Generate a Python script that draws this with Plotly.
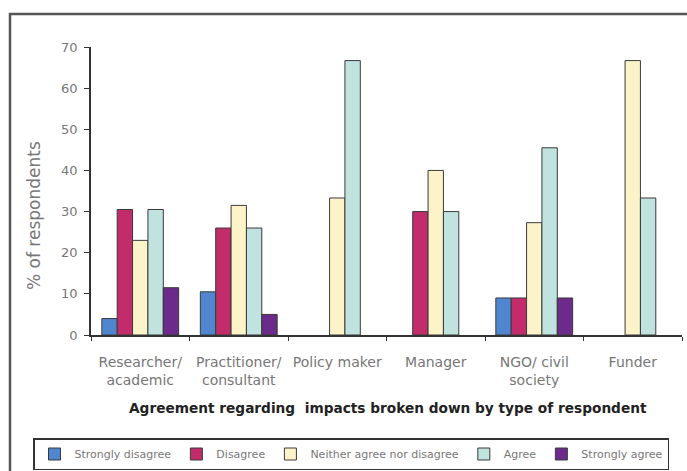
import plotly.graph_objects as go

categories = ["Researcher/<br>academic", "Practitioner/<br>consultant", "Policy maker",
              "Manager", "NGO/ civil<br>society", "Funder"]
strongly_disagree = [4, 10.5, None, None, 9, None]
disagree = [30.5, 26, None, 30, 9, None]
neither = [23, 31.5, 33.3, 40, 27.3, 66.7]
agree = [30.5, 26, 66.7, 30, 45.5, 33.3]
strongly_agree = [11.5, 5, None, None, 9, None]
y_ticks = [0, 10, 20, 30, 40, 50, 60, 70]

series = [
    ("Strongly disagree", strongly_disagree, "#4f86cf"),
    ("Disagree", disagree, "#c22c6a"),
    ("Neither agree nor disagree", neither, "#fcf4c8"),
    ("Agree", agree, "#c0e3e0"),
    ("Strongly agree", strongly_agree, "#6c2a8a"),
]

W, H = 687, 471
L, R, T, B = 91, 5, 47, 136
pw, ph = W - L - R, H - T - B

def px(x):
    return (x - L) / pw

def py(y):
    return (H - B - y) / ph

fig = go.Figure()
for name, vals, col in series:
    fig.add_trace(go.Bar(
        x=categories, y=vals, name=name,
        marker=dict(color=col, line=dict(color="#3a3a3a", width=1)),
    ))

font = "DejaVu Sans, Verdana, sans-serif"
fig.update_layout(
    width=W, height=H,
    margin=dict(l=L, r=R, t=T, b=B, autoexpand=False),
    paper_bgcolor="white", plot_bgcolor="white",
    barmode="group", bargap=0.22, bargroupgap=0,
    font=dict(family=font, color="#555555", size=12),
    showlegend=True,
    legend=dict(
        orientation="h", x=px(33), y=py(438), xanchor="left", yanchor="top",
        bordercolor="#333333", borderwidth=1.5, bgcolor="white",
        font=dict(size=11, color="#777777"), itemwidth=30,
        traceorder="normal",
    ),
    xaxis=dict(
        showline=True, linecolor="#333333", linewidth=1.5,
        ticks="outside", tickson="boundaries", ticklen=4, tickcolor="#333333",
        ticklabelstandoff=13, tickfont=dict(size=14, color="#777777"),
        showgrid=False, zeroline=False,
    ),
    yaxis=dict(
        range=[0, 70], tickvals=y_ticks, showline=True, linecolor="#333333", linewidth=1.5,
        ticks="outside", ticklen=5, tickcolor="#333333", ticklabelstandoff=4,
        tickfont=dict(size=13, color="#777777"),
        showgrid=False, zeroline=False,
    ),
    shapes=[dict(type="rect", xref="paper", yref="paper",
                 x0=px(10), x1=px(700), y0=py(14), y1=py(520),
                 line=dict(color="#555555", width=2.5), layer="below")],
    annotations=[
        dict(text="<b>Agreement regarding  impacts broken down by type of respondent</b>",
             xref="paper", yref="paper", x=px(388), y=py(408), showarrow=False,
             xanchor="center", yanchor="middle",
             font=dict(size=13.7, color="#222222")),
        dict(text="% of respondents", textangle=-90, xref="paper", yref="paper",
             x=px(34), y=py(216), showarrow=False, xanchor="center", yanchor="middle",
             font=dict(size=17, color="#777777")),
    ],
)

fig.write_html("out.html", config={"displayModeBar": False},
               post_script="document.body.style.margin='0px';")
